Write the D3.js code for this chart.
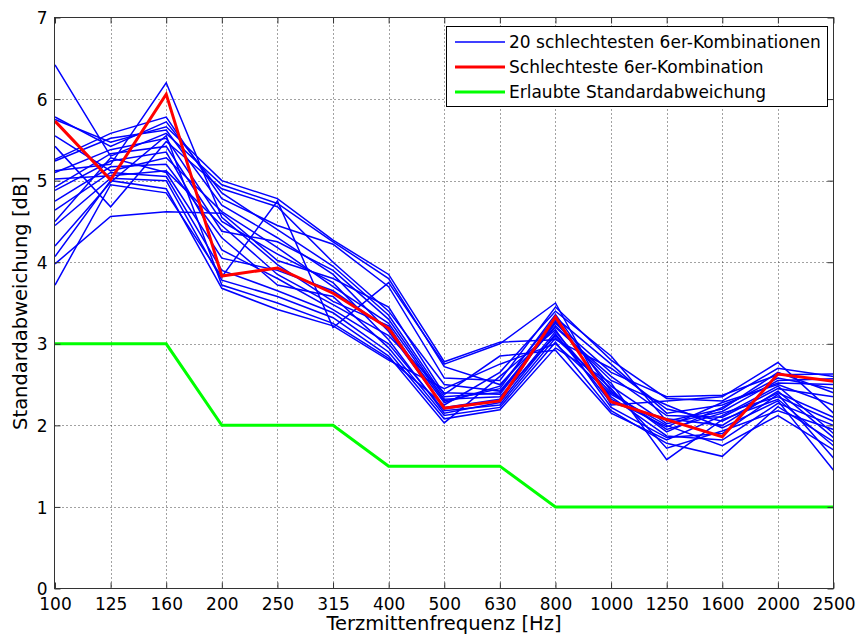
<!DOCTYPE html>
<html>
<head>
<meta charset="utf-8">
<script src="https://cdn.jsdelivr.net/npm/d3@7"></script>
<style>
  html, body { margin: 0; padding: 0; background: #fff; }
  svg { display: block; }
  text { font-family: "DejaVu Sans", "Liberation Sans", sans-serif; fill: #000; }
</style>
</head>
<body>
<svg id="chart" width="856" height="641"></svg>
<script>
// ---- data ----
const categories = ["100","125","160","200","250","315","400","500","630","800","1000","1250","1600","2000","2500"];
const yTicks = [0,1,2,3,4,5,6,7];

const allowedStd = [3,3,3,2,2,2,1.5,1.5,1.5,1,1,1,1,1,1];
const worstCombo = [5.73,5.01,6.06,3.83,3.93,3.62,3.19,2.21,2.30,3.33,2.29,2.07,1.86,2.63,2.54];

const b01 = [6.42,5.30,5.58,4.95,4.72,4.25,3.80,2.72,2.50,3.20,2.60,2.12,2.10,2.45,2.35];
const b02 = [5.78,5.42,5.72,4.85,4.40,3.95,3.35,2.35,2.40,3.27,2.48,2.02,2.17,2.55,2.57];
const b03 = [5.75,5.47,5.66,5.00,4.78,4.27,3.85,2.78,3.02,3.05,2.70,2.20,2.05,2.40,2.10];
const b04 = [5.55,5.12,5.28,4.62,4.18,3.70,3.25,2.30,2.45,3.36,2.42,1.92,2.22,2.58,2.45];
const b05 = [5.42,4.68,5.48,4.90,4.68,4.00,3.40,2.50,2.42,3.22,2.55,2.25,1.97,2.30,1.45];
const b06 = [5.26,5.58,5.78,4.78,4.45,4.22,3.70,2.58,2.55,3.45,2.80,2.33,2.30,2.70,2.60];
const b07 = [5.24,5.52,5.62,4.70,4.30,3.85,3.15,2.22,2.32,3.15,2.35,1.87,1.82,2.27,2.00];
const b08 = [5.12,5.20,6.20,4.55,3.97,3.52,3.22,2.20,2.30,3.30,2.32,1.98,2.28,2.50,2.25];
const b09 = [5.10,5.38,5.52,4.50,4.10,3.75,3.05,2.15,2.28,3.12,2.28,2.08,2.00,2.42,1.85];
const b10 = [5.02,5.06,5.12,4.45,3.85,3.48,3.10,2.40,2.38,3.25,2.65,2.35,2.37,2.62,2.63];
const b11 = [4.92,5.33,5.42,4.38,4.25,3.90,3.30,2.32,2.35,3.10,2.40,1.95,2.15,2.35,2.05];
const b12 = [4.88,5.24,5.35,4.15,3.80,3.42,3.00,2.18,2.25,3.07,2.45,1.72,1.93,2.18,1.95];
const b13 = [4.75,5.17,5.20,4.30,3.72,3.58,2.95,2.12,2.22,3.02,2.18,1.78,1.62,2.23,1.80];
const b14 = [4.64,5.10,5.05,3.90,3.65,3.38,2.90,2.08,2.19,2.95,2.52,1.58,2.07,2.32,1.75];
const b15 = [4.50,5.28,5.10,4.05,3.90,3.65,3.18,2.28,2.48,3.32,2.75,2.15,2.25,2.52,2.50];
const b16 = [4.45,5.03,5.00,3.78,3.58,3.32,2.85,2.03,2.60,3.17,2.22,1.85,1.90,2.38,1.60];
const b17 = [4.20,4.98,5.55,3.72,3.50,3.25,2.82,2.25,2.65,3.40,2.85,2.05,2.20,2.65,2.40];
const b18 = [4.07,5.00,4.90,3.68,3.42,3.22,2.80,2.45,2.75,3.00,2.38,2.00,1.75,2.12,1.70];
const b19 = [3.98,4.56,4.62,4.60,4.02,3.80,3.45,2.38,2.85,2.92,2.15,1.82,2.12,2.48,1.90];
const b20 = [3.72,4.95,4.85,3.82,4.75,3.20,3.75,2.75,3.00,3.50,2.25,2.30,2.35,2.77,2.15];
const blueSeries = [b01,b02,b03,b04,b05,b06,b07,b08,b09,b10,b11,b12,b13,b14,b15,b16,b17,b18,b19,b20];

const legendLabels = ["20 schlechtesten 6er-Kombinationen","Schlechteste 6er-Kombination","Erlaubte Standardabweichung"];
const xTitle = "Terzmittenfrequenz [Hz]";
const yTitle = "Standardabweichung [dB]";

// ---- layout ----
const L = 54.5, R = 833.5, T = 17.5, B = 588.5;
const svg = d3.select("#chart");

const x = d3.scalePoint().domain(categories).range([L + 0.5, R]).padding(0);
const y = d3.scaleLinear().domain([0, 7]).range([B, T]);

// grid
const grid = svg.append("g");
grid.selectAll("line.gx").data(categories.slice(1, -1)).enter().append("line")
  .attr("x1", d => Math.round(x(d)) + 0.5).attr("x2", d => Math.round(x(d)) + 0.5)
  .attr("y1", T).attr("y2", B)
  .attr("stroke", "#444").attr("stroke-width", 1).attr("stroke-dasharray", "1,3");
grid.selectAll("line.gy").data(yTicks.slice(1, -1)).enter().append("line")
  .attr("x1", L).attr("x2", R)
  .attr("y1", d => Math.round(y(d)) + 0.5).attr("y2", d => Math.round(y(d)) + 0.5)
  .attr("stroke", "#444").attr("stroke-width", 1).attr("stroke-dasharray", "1,3");

// lines
const line = d3.line().x((d, i) => x(categories[i])).y(d => y(d));
const plot = svg.append("g");
plot.selectAll("path.blue").data(blueSeries).enter().append("path")
  .attr("d", line).attr("fill", "none").attr("stroke", "#0000ff")
  .attr("stroke-width", 1.5).attr("stroke-linejoin", "miter");
plot.append("path").datum(worstCombo).attr("d", line).attr("fill", "none")
  .attr("stroke", "#ff0000").attr("stroke-width", 3);
plot.append("path").datum(allowedStd).attr("d", line).attr("fill", "none")
  .attr("stroke", "#00ff00").attr("stroke-width", 3);

// axes (ticks inward on all four sides)
const tickLen = 6;
const xb = svg.append("g").attr("transform", `translate(0,${B})`)
  .call(d3.axisBottom(x).tickSizeInner(-tickLen).tickSizeOuter(0).tickPadding(0));
const xt = svg.append("g").attr("transform", `translate(0,${T})`)
  .call(d3.axisTop(x).tickSizeInner(-tickLen).tickSizeOuter(0).tickFormat(""));
const yl = svg.append("g").attr("transform", `translate(${L},0)`)
  .call(d3.axisLeft(y).tickValues(yTicks).tickFormat(d3.format("d"))
    .tickSizeInner(-tickLen).tickSizeOuter(0).tickPadding(0));
const yr = svg.append("g").attr("transform", `translate(${R},0)`)
  .call(d3.axisRight(y).tickValues(yTicks).tickSizeInner(-tickLen).tickSizeOuter(0).tickFormat(""));
[xb, xt, yl, yr].forEach(g => {
  g.select(".domain").remove();
  g.selectAll(".tick line").attr("stroke", "#333");
});
xb.selectAll(".tick text").attr("font-size", 17).attr("y", 0).attr("dy", "21px")
  .attr("font-family", "DejaVu Sans");
yl.selectAll(".tick text").attr("font-size", 17).attr("x", -7).attr("dy", "0.36em")
  .attr("font-family", "DejaVu Sans");

// frame
svg.append("rect").attr("x", L).attr("y", T).attr("width", R - L).attr("height", B - T)
  .attr("fill", "none").attr("stroke", "#333").attr("stroke-width", 1);

// axis titles
svg.append("text").attr("x", (L + R) / 2).attr("y", 630).attr("text-anchor", "middle")
  .attr("font-size", 19.5).text(xTitle);
svg.append("text").attr("transform", `translate(27,${(T + B) / 2}) rotate(-90)`)
  .attr("text-anchor", "middle").attr("font-size", 19.5).text(yTitle);

// legend
const lg = svg.append("g");
lg.append("rect").attr("x", 446.5).attr("y", 26.5).attr("width", 381).attr("height", 80)
  .attr("fill", "#fff").attr("stroke", "#000").attr("stroke-width", 1);
const legendColors = ["#0000ff", "#ff0000", "#00ff00"];
const legendWidths = [1.5, 3, 3];
legendLabels.forEach((lab, i) => {
  const cy = 42 + i * 25;
  lg.append("line").attr("x1", 455).attr("x2", 505).attr("y1", cy).attr("y2", cy)
    .attr("stroke", legendColors[i]).attr("stroke-width", legendWidths[i]);
  lg.append("text").attr("x", 509).attr("y", cy).attr("dy", "0.36em")
    .attr("font-size", 17).text(lab);
});
</script>
</body>
</html>
